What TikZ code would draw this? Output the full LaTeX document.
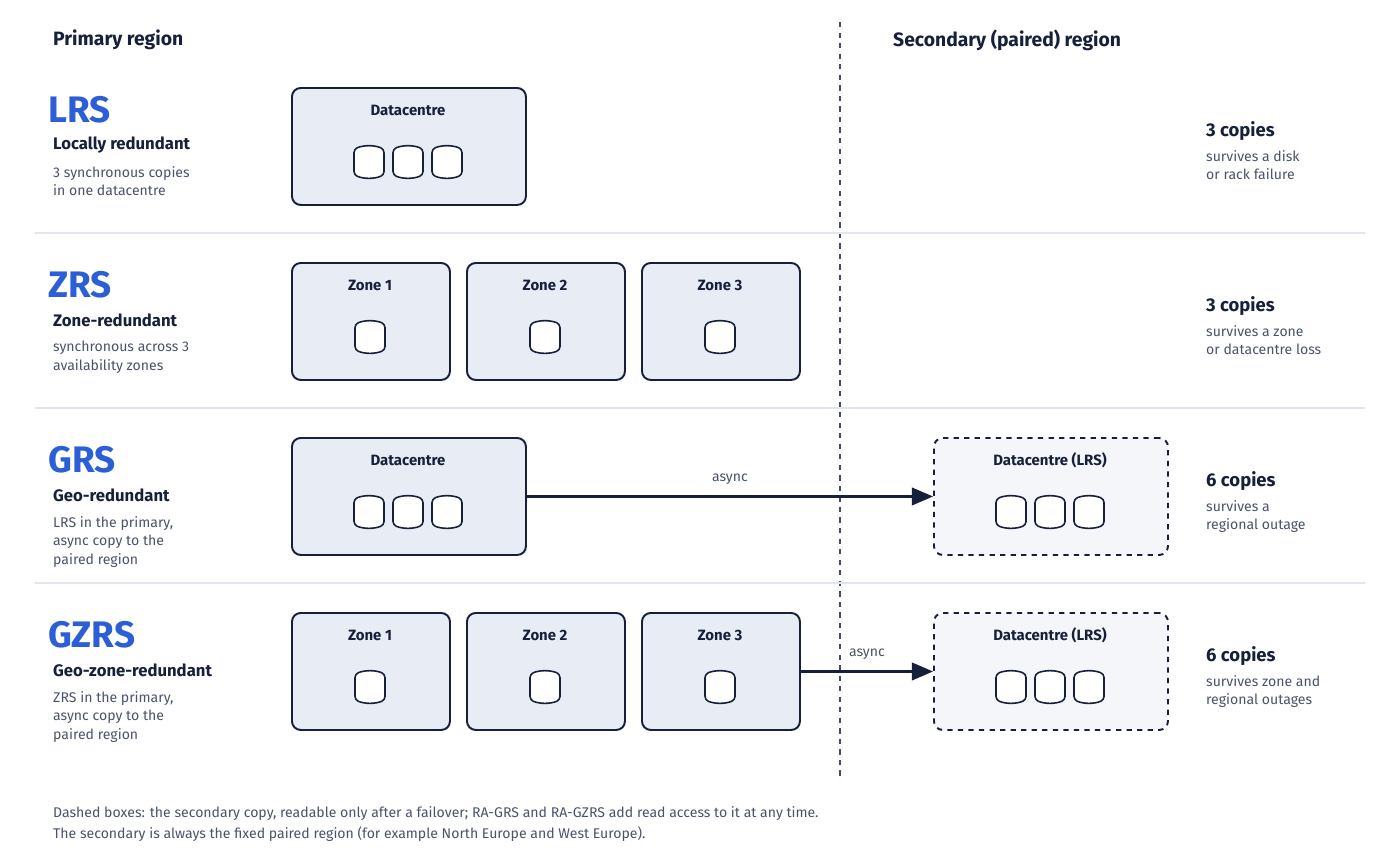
\documentclass[tikz,border=0pt]{standalone}
\usepackage{fontspec}
\setmainfont{Fira Sans}
\usetikzlibrary{arrows.meta,positioning}
\definecolor{navy}{HTML}{16203A}
\definecolor{tierblue}{HTML}{2C5FD6}
\definecolor{greytext}{HTML}{4A5368}
\definecolor{boxfill}{HTML}{E8ECF4}
\definecolor{ghostfill}{HTML}{F4F6FA}
\definecolor{rule}{HTML}{E1E5EE}

\begin{document}
\begin{tikzpicture}[x=0.02cm,y=-0.02cm]
		\tikzset{
		    region/.style={rectangle,draw=navy,line width=1.1pt,rounded corners=5pt,fill=boxfill,anchor=north west,inner sep=0pt},
		    ghost/.style={region,fill=ghostfill,dashed},
		    boxtitle/.style={font=\bfseries\fontsize{8.5}{10}\selectfont,text=navy},
		    tier/.style={anchor=west,font=\bfseries\fontsize{21}{24}\selectfont,text=tierblue},
		    tiername/.style={anchor=west,font=\bfseries\fontsize{9.5}{11}\selectfont,text=navy},
		    note/.style={anchor=north west,align=left,font=\fontsize{8}{10.6}\selectfont,text=greytext},
		    head/.style={anchor=west,font=\bfseries\fontsize{11}{13}\selectfont,text=navy},
		    edge/.style={-{Triangle[length=12pt,width=10pt]},line width=1.2pt,draw=navy},
		    edgelabel/.style={font=\fontsize{8}{10}\selectfont,text=greytext,above},
		    drum/.pic={\draw[navy,line width=0.9pt,fill=white,rounded corners=2pt]
		        (-15,-13) .. controls (-5,-17) and (5,-17) .. (15,-13) -- (15,13)
		        .. controls (5,17) and (-5,17) .. (-15,13) -- cycle;}
		}
		\useasboundingbox (0,0) rectangle (1400,863);

		% headings
		\node[head] (primary) at (47,40) {Primary region};
		\node[head] (secondary) at (887,40) {Secondary (paired) region};
		\coordinate (splittop) at (840,22);
		\coordinate (splitbot) at (840,778);
		\draw[navy!80,dashed,line width=0.9pt] (splittop) -- (splitbot);

		% separators
		\foreach \y in {233,408,583}
		    \draw[rule,line width=1.2pt] (35,\y) -- (1365,\y);

		% tier labels
		\foreach \y/\t/\n/\d in {0/LRS/Locally redundant/{3 synchronous copies\\in one datacentre},
		                         175/ZRS/Zone-redundant/{synchronous across 3\\availability zones},
		                         350/GRS/Geo-redundant/{LRS in the primary,\\async copy to the\\paired region},
		                         525/GZRS/Geo-zone-redundant/{ZRS in the primary,\\async copy to the\\paired region}}{
		    \node[tier] at (42,110+\y) {\t};
		    \node[tiername] at (47,145+\y) {\n};
		    \node[note] at (47,160+\y) {\d};
		}

		% copies
		\foreach \y/\c/\d in {0/3 copies/{survives a disk\\or rack failure},
		                      175/3 copies/{survives a zone\\or datacentre loss},
		                      350/6 copies/{survives a\\regional outage},
		                      525/6 copies/{survives zone and\\regional outages}}{
		    \node[tiername,font=\bfseries\fontsize{10.5}{12}\selectfont] at (1200,131+\y) {\c};
		    \node[note] at (1200,144+\y) {\d};
		}

		% datacentre boxes
		\foreach \n/\x/\y/\s/\t in {lrs/291/87/region/Datacentre, grs/291/437/region/Datacentre,
		                            grssec/933/437/ghost/Datacentre (LRS), gzrssec/933/612/ghost/Datacentre (LRS)}{
		    \node[\s,minimum width=234*0.02cm,minimum height=117*0.02cm] (\n) at (\x,\y) {};
		    \node[boxtitle] at (\x+117,\y+23) {\t};
		    \foreach \k in {-1,0,1}
		        \pic at (\x+117+39*\k,\y+75) {drum};
		}

		% zone boxes
		\foreach \r/\y in {zrs/262,gzrs/612}
		    \foreach \i/\x in {1/291,2/466,3/641}{
		        \node[region,minimum width=158*0.02cm,minimum height=117*0.02cm] (\r\i) at (\x,\y) {};
		        \node[boxtitle] at (\x+79,\y+23) {Zone \i};
		        \pic at (\x+79,\y+75) {drum};
		    }

		% replication
		\draw[edge] (grs.east) -- (grssec.west) node[edgelabel,midway,yshift=3pt] {async};
		\draw[edge] (gzrs3.east) -- (gzrssec.west) node[edgelabel,midway,yshift=3pt] {async};

		% footnote
		\node[note,font=\fontsize{8}{12}\selectfont] (foot) at (47,800)
		    {Dashed boxes: the secondary copy, readable only after a failover; RA-GRS and RA-GZRS add read access to it at any time.\\
		     The secondary is always the fixed paired region (for example North Europe and West Europe).};
	\end{tikzpicture}
\end{document}
